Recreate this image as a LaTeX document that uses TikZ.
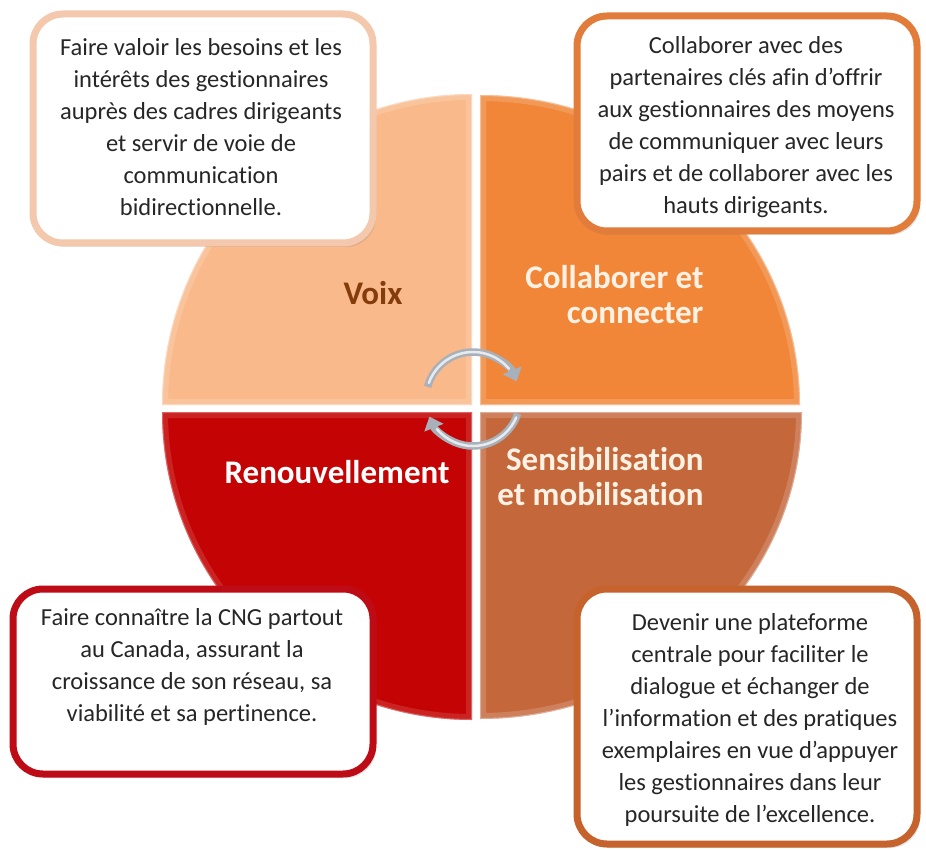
\documentclass[tikz,border=0pt]{standalone}
\usepackage{fontspec}
\setmainfont{Carlito}[Ligatures={NoCommon,NoContextual}]
\usetikzlibrary{arrows.meta,shadows}
\definecolor{voixc}{RGB}{249,185,138}
\definecolor{collc}{RGB}{241,134,57}
\definecolor{renc}{RGB}{196,4,4}
\definecolor{sensc}{RGB}{196,104,60}
\definecolor{tlb}{RGB}{244,200,172}
\definecolor{trb}{RGB}{226,124,58}
\definecolor{blb}{RGB}{190,12,22}
\definecolor{brb}{RGB}{198,98,44}
\definecolor{txt}{RGB}{38,38,38}
\definecolor{voixt}{RGB}{132,60,12}
\definecolor{cream}{RGB}{255,242,228}
\definecolor{arrowc}{RGB}{168,176,186}
\definecolor{arrowl}{RGB}{232,235,238}
\newcommand{\pathTL}{(472,405) -- (162,405) arc[start angle=180,end angle=270,x radius=310,y radius=311] -- cycle}
\newcommand{\pathTR}{(480,405) -- (480,95) arc[start angle=270,end angle=360,x radius=320,y radius=310] -- cycle}
\newcommand{\pathBL}{(472,412) -- (472,720) arc[start angle=90,end angle=180,x radius=310,y radius=308] -- cycle}
\newcommand{\pathBR}{(480,412) -- (802,412) arc[start angle=0,end angle=90,x radius=322,y radius=307] -- cycle}
\begin{document}
\begin{tikzpicture}[x=1pt,y=-1pt,
  callout/.style={draw, line width=7pt, rounded corners=30pt, fill=white,
    drop shadow={opacity=0.22,shadow xshift=3pt,shadow yshift=-4pt}},
  bodytext/.style={text=txt, align=center, font=\fontsize{24.5}{32}\selectfont},
  quadlabel/.style={font=\bfseries\fontsize{33}{35}\selectfont},
  arr/.style={line width=7.5pt, draw=arrowc, -{Triangle[length=12pt,width=20pt]}},
  arrhi/.style={line width=2.5pt, draw=arrowl, line cap=round}
]
\useasboundingbox (0,0) rectangle (926,850);
\fill[white] (0,0) rectangle (926,850);
% quadrants
\fill[voixc] \pathTL;
\fill[collc] \pathTR;
\fill[renc] \pathBL;
\fill[sensc] \pathBR;
% bevel highlights
\begin{scope}\clip \pathTL; \draw[line width=12pt, white, opacity=0.16] \pathTL; \draw[line width=2pt, white, opacity=0.35] \pathTL; \end{scope}
\begin{scope}\clip \pathTR; \draw[line width=12pt, white, opacity=0.16] \pathTR; \draw[line width=2pt, white, opacity=0.35] \pathTR; \end{scope}
\begin{scope}\clip \pathBL; \draw[line width=12pt, white, opacity=0.12] \pathBL; \draw[line width=2pt, white, opacity=0.3] \pathBL; \end{scope}
\begin{scope}\clip \pathBR; \draw[line width=12pt, white, opacity=0.16] \pathBR; \draw[line width=2pt, white, opacity=0.35] \pathBR; \end{scope}
% quadrant labels
\node[quadlabel, text=voixt] (voix) at (373,293) {Voix};
\node[quadlabel, text=cream, align=right, anchor=east] (coll) at (707,295) {Collaborer et\\connecter};
\node[quadlabel, text=white] (ren) at (337,472) {Renouvellement};
\node[quadlabel, text=cream, align=right, anchor=east] (sens) at (707,477) {Sensibilisation\\et mobilisation};
% cycle arrows
\coordinate (cyc) at (473,399);
\draw[arr] (cyc) ++(-165:47) arc[start angle=-165, end angle=-22, radius=47];
\draw[arrhi] (cyc) ++(-160:47) arc[start angle=-160, end angle=-40, radius=47];
\draw[arr] (cyc) ++(18:47) arc[start angle=18, end angle=158, radius=47];
\draw[arrhi] (cyc) ++(23:47) arc[start angle=23, end angle=140, radius=47];
% callout boxes
\node[callout, draw=tlb, minimum width=340pt, minimum height=229pt] (boxTL) at (203,128.5) {};
\node[callout, draw=trb, minimum width=340pt, minimum height=215pt] (boxTR) at (747,123.5) {};
\node[callout, draw=blb, minimum width=360pt, minimum height=185pt] (boxBL) at (193,681.5) {};
\node[callout, draw=brb, minimum width=340pt, minimum height=255pt] (boxBR) at (747,716.5) {};
% callout texts
\node[bodytext] (tTL) at (201,127) {Faire valoir les besoins et les\\intérêts des gestionnaires\\auprès des cadres dirigeants\\et servir de voie de\\communication\\bidirectionnelle.};
\node[bodytext] (tTR) at (746,127) {Collaborer avec des\\partenaires clés afin d’offrir\\aux gestionnaires des moyens\\de communiquer avec leurs\\pairs et de collaborer avec les\\hauts dirigeants.};
\node[bodytext] (tBL) at (192,667) {Faire connaître la CNG partout\\au Canada, assurant la\\croissance de son réseau, sa\\viabilité et sa pertinence.};
\node[bodytext] (tBR) at (750,720) {Devenir une plateforme\\centrale pour faciliter le\\dialogue et échanger de\\l’information et des pratiques\\exemplaires en vue d’appuyer\\les gestionnaires dans leur\\poursuite de l’excellence.};
\end{tikzpicture}
\end{document}
